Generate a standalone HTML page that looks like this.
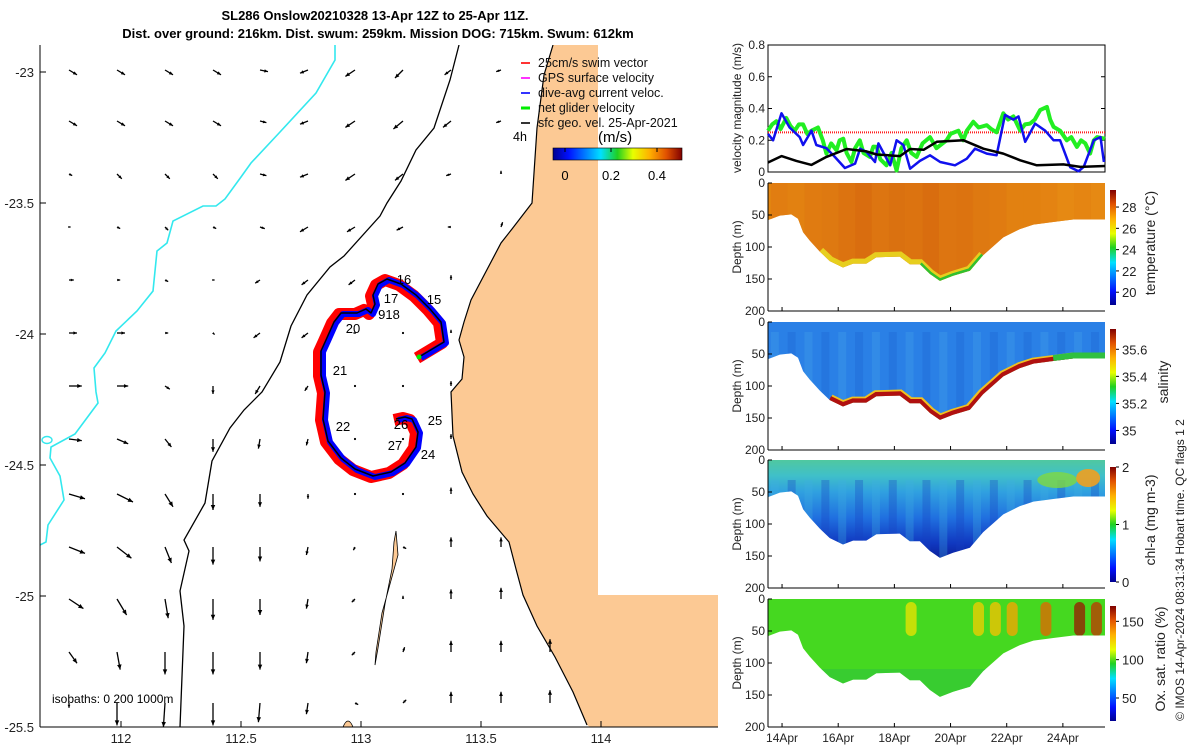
<!DOCTYPE html>
<html><head><meta charset="utf-8"><style>
html,body{margin:0;padding:0;background:#fff;width:1200px;height:750px;overflow:hidden;}
svg{display:block;font-family:"Liberation Sans","DejaVu Sans",sans-serif;}
</style></head><body>
<svg id="fig" width="1200" height="750" viewBox="0 0 1200 750" xmlns="http://www.w3.org/2000/svg">
<defs>
<linearGradient id="jet" x1="0" y1="0" x2="1" y2="0">
<stop offset="0" stop-color="#00008f"/><stop offset="0.12" stop-color="#0010ff"/><stop offset="0.37" stop-color="#00e0ff"/><stop offset="0.5" stop-color="#20d020"/><stop offset="0.62" stop-color="#e8ff00"/><stop offset="0.75" stop-color="#ffb000"/><stop offset="0.88" stop-color="#e05000"/><stop offset="1" stop-color="#800000"/>
</linearGradient>
<linearGradient id="jetv" x1="0" y1="1" x2="0" y2="0">
<stop offset="0" stop-color="#00008f"/><stop offset="0.12" stop-color="#0010ff"/><stop offset="0.37" stop-color="#00e0ff"/><stop offset="0.5" stop-color="#20d020"/><stop offset="0.62" stop-color="#e8ff00"/><stop offset="0.75" stop-color="#ffb000"/><stop offset="0.88" stop-color="#e05000"/><stop offset="1" stop-color="#800000"/>
</linearGradient>
<clipPath id="mapclip"><rect x="40" y="45" width="678" height="682"/></clipPath>
</defs>
<g id="map"></g>
<g id="vel"></g>
<g id="sec"></g>
</svg>
<script>
const NS="http://www.w3.org/2000/svg";
function mk(tag,attrs,parent,txt){const e=document.createElementNS(NS,tag);for(const k in attrs)e.setAttribute(k,attrs[k]);if(txt!==undefined)e.textContent=txt;parent.appendChild(e);return e;}
const svg=document.getElementById('fig');
const map=document.getElementById('map');
const vel=document.getElementById('vel');
const sec=document.getElementById('sec');

let t1=mk('text',{x:375,y:20,'text-anchor':'middle','font-size':13,'font-weight':'bold'},svg,'SL286 Onslow20210328 13-Apr 12Z to 25-Apr 11Z.');

let t2=mk('text',{x:378,y:38,'text-anchor':'middle','font-size':13,'font-weight':'bold'},svg,'Dist. over ground: 216km. Dist. swum: 259km. Mission DOG: 715km. Swum: 612km');


/* ---------- MAP ---------- */
const lonTicks=[112,112.5,113,113.5,114];
const latTicks=[-23,-23.5,-24,-24.5,-25,-25.5];
function lonX(l){return 121+(l-112)*240;}
function latY(l){return 72+(-23-l)*262;}
const MX0=40,MX1=718,MY0=45,MY1=727;
const mapIn=mk('g',{'clip-path':'url(#mapclip)'},map);


const land="553,45 544,75 537,128 532,203 512,229 501,243 471,300 464,322 459,340 464,357 462,379 451,392 453,436 462,472 473,494 487,516 509,542 516,569 523,595 537,626 555,657 573,692 587,725 590,727 718,727 718,595 598,595 598,45";
let lp=mk('polygon',{points:land,fill:'#fcc994',stroke:'none'},mapIn);

let cl=mk('polyline',{points:"553,45 544,75 537,128 532,203 512,229 501,243 471,300 464,322 459,340 464,357 462,379 451,392 453,436 462,472 473,494 487,516 509,542 516,569 523,595 537,626 555,657 573,692 587,725",fill:'none',stroke:'#000','stroke-width':1.2},mapIn);

let isl=mk('polygon',{points:"396,531 398,555 387,595 382,613 376,652 375,665 378,648 385,604 392,569 394,542",fill:'#fcc994',stroke:'#000','stroke-width':0.8},mapIn);

mk('path',{d:"M343,727 Q348,715 353,727Z",fill:'#fcc994',stroke:'#000','stroke-width':0.8},mapIn);
let i200=mk('polyline',{points:"459,45 450,80 434,128 416,150 401,181 387,203 380,216 344,256 330,267 307,295 291,326 280,362 262,392 244,410 230,428 212,461 205,503 184,540 189,551 180,591 184,626 180,727",fill:'none',stroke:'#000','stroke-width':1.3},mapIn);

let i1000=mk('polyline',{points:"335,45 335,60 316,93 280,132 251,163 241,177 225,199 216,206 203,206 173,221 167,243 157,251 153,291 137,311 116,331 105,353 94,368 96,392 98,403 75,434 51,447 50,458 60,476 64,500 48,525 46,542 40,545",fill:'none',stroke:'#33e8ee','stroke-width':1.6},mapIn);

mk('ellipse',{cx:47,cy:440,rx:5,ry:3.5,fill:'none',stroke:'#33e8ee','stroke-width':1.4},mapIn);

const qCols=[69,117,165,213,260,308,355,403,451,501,550];
const qRows=[70,121,174,227,280,333,386,439,494,547,599,652,703];
const qU=[
[5,5,5,5,5,-5,-6,-5,-4,-3,null],
[5,5,5,5,4,-5,-6,-6,-5,-3,null],
[2,3,3,3,4,-5,-6,-5,-3,0,null],
[1,2,2,2,3,-5,-5,-4,-2,1,null],
[3,2,2,1,-3,-4,-4,-2,0,null,null],
[5,5,2,1,-4,-4,-1,0,0,null,null],
[8,7,3,0,-3,-2,0,0,0,null,null],
[8,7,4,0,-1,-1,0,0,0,null,null],
[10,10,5,0,0,0,0,0,0,null,null],
[10,9,4,0,0,-1,-1,2,0,0,null],
[9,6,2,0,0,-1,-2,0,0,0,null],
[5,2,0,0,0,-1,-2,1,0,0,0],
[0,0,-1,0,-1,-1,2,2,0,0,0]];
const qV=[
[3,3,3,3,1,2,4,5,3,1,null],
[3,3,3,3,1,2,4,5,4,1,null],
[1,3,3,3,1,2,4,4,1,-2,null],
[0,1,2,1,1,3,3,2,0,-3,null],
[0,0,1,0,2,3,3,1,-3,null,null],
[0,0,0,1,3,3,0,0,-2,null,null],
[0,0,2,5,5,3,0,0,-3,null,null],
[1,3,5,8,6,4,0,0,-3,null,null],
[3,5,8,10,8,3,0,0,-4,null,null],
[4,7,10,11,9,5,2,1,-6,-6,null],
[6,10,12,13,10,6,2,-2,-6,-7,null],
[7,11,14,14,11,7,2,-3,-7,-7,-8],
[3,14,15,14,12,7,1,-2,-7,-7,-8]];
const QS=1.6;
for(let r=0;r<qRows.length;r++){for(let c=0;c<qCols.length;c++){
 const u=qU[r][c],v=qV[r][c]; if(u===null||v===null)continue;
 const x0=qCols[c],y0=qRows[r],dx=u*QS,dy=v*QS,x1=x0+dx,y1=y0+dy;
 const L=Math.hypot(dx,dy); const g=mk('g',{},mapIn);
 
 if(L<1.5){mk('circle',{cx:x0,cy:y0,r:1.1,fill:'#000'},g);continue;}
 mk('line',{x1:x0,y1:y0,x2:x1,y2:y1,stroke:'#000','stroke-width':1.3},g);
 const ux=dx/L,uy=dy/L,h=Math.min(5,2+L*0.2);
 mk('polygon',{points:`${x1},${y1} ${x1-ux*h-uy*h*0.45},${y1-uy*h+ux*h*0.45} ${x1-ux*h+uy*h*0.45},${y1-uy*h-ux*h*0.45}`,fill:'#000'},g);
}}

const trackX=[419,434,444,441,430,416,401,387,378,373,375,371,366,357,341,334,326,321,321,325,323,328,341,355,373,391,405,416,418,412,405,396];
const trackY=[357,348,342,322,309,295,284,279,284,295,304,313,309,313,313,322,340,351,375,392,419,441,458,469,476,472,463,447,432,419,417,419];
const tp=trackX.map((x,i)=>x+','+trackY[i]).join(' ');
let tr=mk('polyline',{points:trackX.map((x,i)=>(x-2)+','+(trackY[i]+1)).join(' '),fill:'none',stroke:'#ff0000','stroke-width':12,'stroke-linejoin':'round'},mapIn);

let tb=mk('polyline',{points:trackX.map((x,i)=>(x+2)+','+(trackY[i]+1)).join(' '),fill:'none',stroke:'#0000ff','stroke-width':6,'stroke-linejoin':'round'},mapIn);

let tk=mk('polyline',{points:tp,fill:'none',stroke:'#000','stroke-width':1.5,'stroke-linejoin':'round'},mapIn);

mk('circle',{cx:419,cy:357,r:2.5,fill:'#00ee00'},mapIn);
const dayLab=['16','15','17','918','20','21','22','25','26','27','24'];
const dayLX=[404,434,391,389,353,340,343,435,401,395,428];
const dayLY=[284,304,303,319,333,375,431,425,429,450,459];
for(let i=0;i<dayLab.length;i++){let e=mk('text',{x:dayLX[i],y:dayLY[i],'text-anchor':'middle','font-size':13},mapIn,dayLab[i]);
}

mk('line',{x1:MX0,y1:MY0,x2:MX0,y2:MY1,stroke:'#000','stroke-width':1},map);
mk('line',{x1:MX0,y1:MY1,x2:MX1,y2:MY1,stroke:'#000','stroke-width':1},map);
lonTicks.forEach(l=>{const x=lonX(l);mk('line',{x1:x,y1:MY1,x2:x,y2:MY1-6,stroke:'#000'},map);
 let e=mk('text',{x:x,y:743,'text-anchor':'middle','font-size':13,fill:'#222'},map,String(l));});
latTicks.forEach(l=>{const y=latY(l);mk('line',{x1:MX0,y1:y,x2:MX0+6,y2:y,stroke:'#000'},map);
 let e=mk('text',{x:34,y:y+5,'text-anchor':'end','font-size':13,fill:'#222'},map,String(l));});
let iso=mk('text',{x:52,y:703,'font-size':12},map,'isobaths: 0   200  1000m');

const legLab=['25cm/s swim vector','GPS surface velocity','dive-avg current veloc.','net glider velocity','sfc geo. vel. 25-Apr-2021'];
const legCol=['#ff0000','#ff00ff','#0000ff','#00ee00','#000000'];
legLab.forEach((s,i)=>{const y=62+i*15;const g=mk('g',{},map);
 mk('line',{x1:521,y1:y+1,x2:530,y2:y+1,stroke:legCol[i],'stroke-width':i==3?3:1.6},g);
 mk('text',{x:538,y:y+5,'font-size':12.5,fill:'#111'},g,s);});
let l4=mk('text',{x:513,y:141,'font-size':12.5},map,'4h');
let ms=mk('text',{x:598,y:142,'font-size':15},map,'(m/s)');
let cb=mk('rect',{x:553,y:148,width:129,height:12,fill:'url(#jet)',stroke:'#000','stroke-width':0.6},map);
[[0,565],[0.2,611],[0.4,657]].forEach(p=>{mk('line',{x1:p[1],y1:148,x2:p[1],y2:152,stroke:'#000'},map);let e=mk('text',{x:p[1],y:180,'text-anchor':'middle','font-size':13},map,String(p[0]));});

/* ---------- VELOCITY PANEL ---------- */
const VX0=768,VX1=1105,VY0=45,VY1=172;
function dX(d){return 768+(d-13.5)*(337/12);}
function vY(v){return VY1-v/0.8*(VY1-VY0);}
const velTicks=[0,0.2,0.4,0.6,0.8];
const blackDay=[13.5,13.98,14.51,15.05,15.58,16.3,17.01,17.37,18.2,18.56,19.04,19.51,20.46,21.17,21.88,22.48,23.07,24.02,24.62,25.5];
const blackVal=[0.06,0.1,0.07,0.045,0.095,0.145,0.13,0.11,0.1,0.145,0.14,0.19,0.2,0.147,0.116,0.074,0.042,0.048,0.032,0.038];
const blueDay=[13.5,13.68,13.98,14.27,14.63,14.75,15.05,15.22,15.58,15.88,16.24,16.6,16.78,17.01,17.31,17.43,17.85,18.08,18.32,18.56,18.91,19.27,19.63,20.16,20.58,20.87,21.29,21.64,21.94,22.24,22.42,22.66,23.01,23.37,23.67,23.9,24.26,24.56,24.74,25.1,25.34,25.46];
const blueVal=[0.24,0.2,0.37,0.28,0.22,0.17,0.26,0.17,0.15,0.095,0.025,0.053,0.147,0.126,0.063,0.18,0.042,0.2,0.17,0.021,0.07,0.105,0.063,0.042,0.084,0.147,0.116,0.105,0.36,0.33,0.35,0.19,0.305,0.26,0.2,0.2,0.03,0.005,0.032,0.2,0.22,0.063];
const greenDay=[13.5,13.65,13.8,13.95,14.15,14.3,14.45,14.6,14.75,14.9,15.05,15.28,15.45,15.58,15.75,15.94,16.05,16.18,16.3,16.47,16.6,16.77,16.9,17.13,17.25,17.37,17.5,17.72,17.9,18.08,18.25,18.44,18.6,18.79,19.0,19.27,19.5,19.86,20.0,20.28,20.45,20.58,20.81,21.0,21.29,21.45,21.64,21.88,22.05,22.24,22.48,22.65,22.83,23.0,23.19,23.43,23.55,23.67,23.9,24.14,24.3,24.5,24.65,24.8,24.97,25.1,25.22,25.5];
const greenVal=[0.26,0.3,0.32,0.27,0.34,0.29,0.26,0.3,0.3,0.24,0.26,0.28,0.2,0.116,0.18,0.137,0.2,0.21,0.12,0.063,0.15,0.2,0.12,0.095,0.16,0.158,0.08,0.042,0.12,0.01,0.15,0.2,0.12,0.095,0.18,0.22,0.15,0.2,0.24,0.26,0.2,0.26,0.316,0.28,0.295,0.27,0.25,0.37,0.33,0.35,0.26,0.3,0.305,0.33,0.39,0.41,0.33,0.284,0.26,0.2,0.22,0.158,0.2,0.18,0.116,0.2,0.22,0.21];
const swimRef=0.25;
let vb=mk('rect',{x:VX0,y:VY0,width:VX1-VX0,height:VY1-VY0,fill:'#fff',stroke:'#000','stroke-width':1},vel);
velTicks.forEach(v=>{const y=vY(v);mk('line',{x1:VX0,y1:y,x2:VX0+4,y2:y,stroke:'#000'},vel);mk('line',{x1:VX1,y1:y,x2:VX1-4,y2:y,stroke:'#000'},vel);
 let e=mk('text',{x:765,y:y+4,'text-anchor':'end','font-size':12,fill:'#222'},vel,String(v));});
let vyl=mk('text',{x:0,y:0,transform:'translate(741,108) rotate(-90)','text-anchor':'middle','font-size':12,fill:'#222'},vel,'velocity magnitude (m/s)');
let rl=mk('line',{x1:VX0,y1:vY(swimRef),x2:VX1,y2:vY(swimRef),stroke:'#ff2020','stroke-width':2,'stroke-dasharray':'1 1'},vel);
function vline(days,vals,col,w,name){const p=days.map((d,i)=>dX(d).toFixed(1)+','+vY(vals[i]).toFixed(1)).join(' ');let e=mk('polyline',{points:p,fill:'none',stroke:col,'stroke-width':w,'stroke-linejoin':'round'},vel);}
vline(greenDay,greenVal,'#22ee22',4,'net-glider-velocity-line');
vline(blueDay,blueVal,'#1010ee',2.5,'dive-avg-current-line');
vline(blackDay,blackVal,'#000',2.5,'surface-geostrophic-line');

/* ---------- SECTIONS ---------- */
const bedDay=[13.5,13.92,14.33,14.57,14.75,14.99,15.34,15.7,16.17,16.53,17.0,17.36,18.19,18.55,18.91,19.26,19.62,20.09,20.69,21.16,21.88,22.47,22.95,23.66,24.37,25.5];
const bedDepth=[58,51,49,56,77,90,107,122,132,126,126,116,115,127,127,142,153,145,137,113,85,72,65,61,57,57];
const dateTicks=['14Apr','16Apr','18Apr','20Apr','22Apr','24Apr'];
const dateTickDay=[14,16,18,20,22,24];
const depthTicks=[0,50,100,150,200];
const panelTop=[183,322,460,599];
const PH=128;
const colDay=[13.6,14.2,14.8,15.4,16.0,16.6,17.2,17.8,18.4,19.0,19.6,20.2,20.8,21.4,22.0,22.6,23.2,23.8,24.4,25.0];
const tempSurf=[27.9,27.8,28.0,28.1,28.3,28.5,28.2,28.4,28.3,28.5,28.2,28.3,28.1,28.0,27.8,27.8,27.7,27.5,27.6,27.5];
const oxSurf=[100,100,100,100,100,100,100,100,120,105,100,100,125,128,135,105,148,105,165,158];
const cbRange=[[18.8,29.6],[34.9,35.75],[0,2],[20,170]];
const cbTicks=[[20,22,24,26,28],[35,35.2,35.4,35.6],[0,1,2],[50,100,150]];
const cbTitles=['temperature (°C)','salinity','chl-a (mg m-3)','Ox. sat. ratio (%)'];
const cbTitleX=[1150,1163,1150,1160];
const cbNames=['temperature','salinity','chlorophyll','oxygen'];
function jet(f){f=Math.max(0,Math.min(1,f));const stops=[[0,[0,0,143]],[0.12,[0,16,255]],[0.37,[0,224,255]],[0.5,[32,208,32]],[0.62,[232,255,0]],[0.75,[255,176,0]],[0.88,[224,80,0]],[1,[128,0,0]]];
 for(let i=1;i<stops.length;i++){if(f<=stops[i][0]){const a=stops[i-1],b=stops[i],t=(f-a[0])/(b[0]-a[0]);return 'rgb('+a[1].map((c,k)=>Math.round(c+(b[1][k]-c)*t)).join(',')+')';}}return 'rgb(128,0,0)';}
function tempCol(t){const f=Math.max(0,Math.min(1,(t-27.4)/1.2));return 'rgb('+Math.round(232-20*f)+','+Math.round(140-40*f)+','+Math.round(20-5*f)+')';}

panelTop.forEach((top,p)=>{
 const g=mk('g',{},sec);
 const zY=d=>top+d/200*PH;
 const poly=dX(13.5)+','+top+' '+bedDay.map((d,i)=>dX(d).toFixed(1)+','+zY(bedDepth[i]).toFixed(1)).join(' ')+' '+dX(25.5)+','+top;
 const cpId='clip'+p;const cp=mk('clipPath',{id:cpId},g);mk('polygon',{points:poly},cp);
 const inner=mk('g',{'clip-path':'url(#'+cpId+')'},g);
 const [lo,hi]=cbRange[p];
 if(p===0){
  mk('rect',{x:768,y:top,width:337,height:PH,fill:'#e38610'},inner);
  colDay.forEach((d,i)=>{mk('rect',{x:dX(d),y:top,width:16.8,height:PH,fill:tempCol(tempSurf[i]),opacity:0.8},inner);});
  const sub=bedDay.map((d,i)=>[d,bedDepth[i]]).filter(a=>a[0]>15.2&&a[0]<21.3);
  mk('polyline',{points:sub.map(a=>dX(a[0])+','+zY(a[1])).join(' '),fill:'none',stroke:'#e8d820','stroke-width':10,opacity:0.9},inner);
  mk('polyline',{points:sub.filter(a=>a[0]>18.8).map(a=>dX(a[0])+','+zY(a[1])).join(' '),fill:'none',stroke:'#30c030','stroke-width':5},inner);
 }else if(p===1){
  mk('rect',{x:768,y:top,width:337,height:PH,fill:'#2a80e6'},inner);
  colDay.forEach((d,i)=>{mk('rect',{x:dX(d),y:top+10,width:8,height:PH-10,fill:i%2?'#1a5fd0':'#45a6ea',opacity:0.3},inner);});
  const sub=bedDay.map((d,i)=>[d,bedDepth[i]]).filter(a=>a[0]>15.6);
  mk('polyline',{points:sub.map(a=>dX(a[0])+','+zY(a[1])).join(' '),fill:'none',stroke:'#f0c020','stroke-width':12},inner);
  mk('polyline',{points:sub.filter(a=>a[0]<24.4).map(a=>dX(a[0])+','+zY(a[1]-2)).join(' '),fill:'none',stroke:'#b01010','stroke-width':6},inner);
  mk('polyline',{points:sub.filter(a=>a[0]>23.5).map(a=>dX(a[0])+','+zY(a[1]-3)).join(' '),fill:'none',stroke:'#30c040','stroke-width':8},inner);
 }else if(p===2){
  const lg=mk('linearGradient',{id:'chlg',x1:0,y1:top,x2:0,y2:top+PH,gradientUnits:'userSpaceOnUse'},g);
  [[0,'#50c8a0'],[0.12,'#40c0c8'],[0.25,'#30a0e0'],[0.45,'#2070e0'],[0.65,'#1038c0'],[0.8,'#0a1a90']].forEach(s=>mk('stop',{offset:s[0],'stop-color':s[1]},lg));
  mk('rect',{x:768,y:top,width:337,height:PH,fill:'url(#chlg)'},inner);
  colDay.forEach((d,i)=>{mk('rect',{x:dX(d),y:top+20,width:8,height:PH-20,fill:i%2?'#1840c0':'#40b0e0',opacity:0.3},inner);});
  mk('ellipse',{cx:dX(23.8),cy:top+20,rx:20,ry:8,fill:'#80d840',opacity:0.8},inner);
  mk('ellipse',{cx:dX(24.9),cy:top+18,rx:12,ry:9,fill:'#f0a020',opacity:0.9},inner);
 }else{
  mk('rect',{x:768,y:top,width:337,height:PH,fill:'#45d820'},inner);
  mk('rect',{x:768,y:top+70,width:337,height:PH-70,fill:'#2cc040',opacity:0.5},inner);
  colDay.forEach((d,i)=>{if(oxSurf[i]>115)mk('rect',{x:dX(d),y:top+3,width:11,height:34,rx:5.5,fill:jet((oxSurf[i]-lo)/(hi-lo)),opacity:0.75},inner);});
 }
 mk('line',{x1:768,y1:top,x2:768,y2:top+PH,stroke:'#000'},g);
 mk('line',{x1:768,y1:top+PH,x2:1105,y2:top+PH,stroke:'#000'},g);
 depthTicks.forEach(d=>{const y=zY(d);mk('line',{x1:768,y1:y,x2:772,y2:y,stroke:'#000'},g);
  let e=mk('text',{x:765,y:y+4,'text-anchor':'end','font-size':12,fill:'#222'},g,String(d));});
 dateTickDay.forEach(d=>{mk('line',{x1:dX(d),y1:top+PH,x2:dX(d),y2:top+PH-4,stroke:'#000'},g);});
 let yl=mk('text',{x:0,y:0,transform:`translate(741,${top+PH/2}) rotate(-90)`,'text-anchor':'middle','font-size':12,fill:'#222'},g,'Depth (m)');
 const cy0=top+7,cy1=top+PH-6;
 let cbr=mk('rect',{x:1110,y:cy0,width:6,height:cy1-cy0,fill:'url(#jetv)'},g);
 cbTicks[p].forEach(v=>{const y=cy1-(v-lo)/(hi-lo)*(cy1-cy0);mk('line',{x1:1116,y1:y,x2:1119,y2:y,stroke:'#000'},g);
  let e=mk('text',{x:1122,y:y+5,'font-size':13,fill:'#222'},g,String(v));});
 let ct=mk('text',{x:0,y:0,transform:`translate(${cbTitleX[p]+5},${top+PH/2-4}) rotate(-90)`,'text-anchor':'middle','font-size':14,fill:'#222'},g,cbTitles[p]);
});
dateTicks.forEach((s,i)=>{let e=mk('text',{x:dX(dateTickDay[i]),y:742,'text-anchor':'middle','font-size':12,fill:'#222'},sec,s);});
let cr=mk('text',{x:0,y:0,transform:'translate(1184,570) rotate(-90)','text-anchor':'middle','font-size':12,fill:'#222'},sec,'© IMOS 14-Apr-2024 08:31:34 Hobart time. QC flags 1  2');

</script>
</body></html>
